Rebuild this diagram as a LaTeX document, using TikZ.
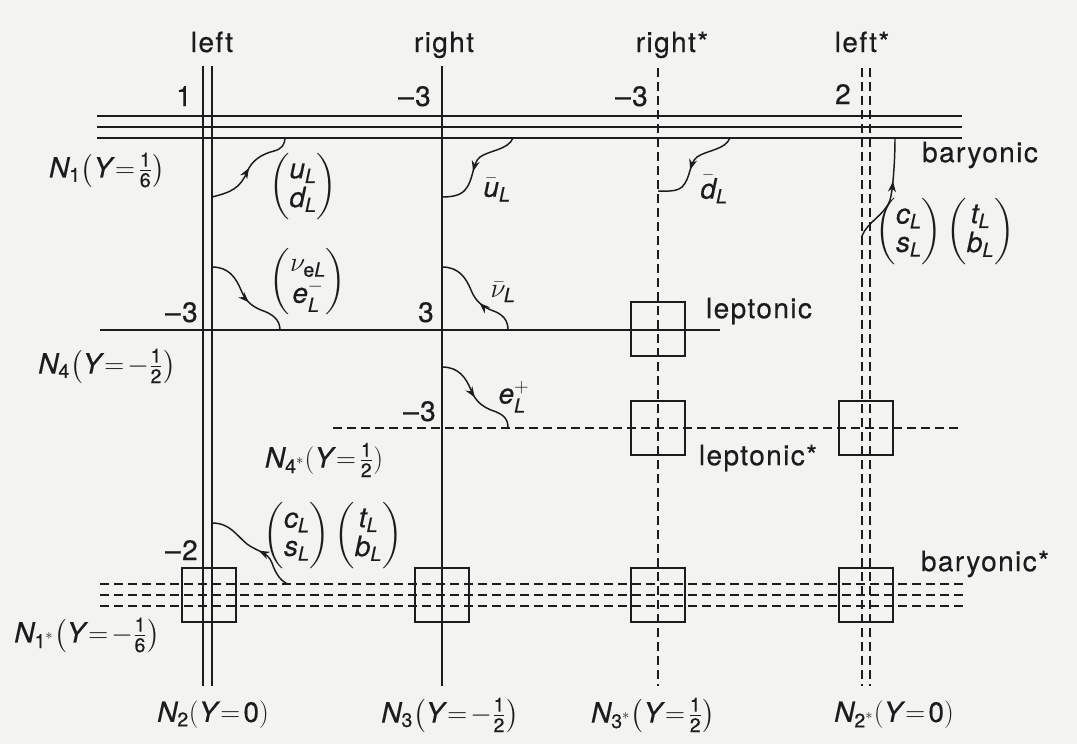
\documentclass[tikz,border=0pt]{standalone}
\usepackage{amsmath}
\usepackage{fontspec}
\setmainfont{TeX Gyre Heros}[LetterSpace=5,FakeBold=0.4]
\usetikzlibrary{decorations.markings,arrows.meta}
\definecolor{ink}{RGB}{28,28,28}
\definecolor{bgc}{RGB}{243,243,241}
\newcommand\mi[1]{\mathit{#1}}
\newcommand\tx[1]{\text{#1}}
\newcommand\fr[2]{\frac{\text{#1}}{\text{#2}}}
\newcommand\vecpair[2]{\left(\begin{matrix}#1\\#2\end{matrix}\right)}
\newcommand\eqs{\!=\!}
\renewcommand{\arraystretch}{0.85}
\tikzset{
  ln/.style={line width=1.3pt, draw=ink},
  dln/.style={ln, dash pattern=on 7pt off 3.5pt},
  boxn/.style={draw=ink, line width=1.3pt, minimum width=41pt, minimum height=40.5pt, inner sep=0pt},
  lbl/.style={font=\fontsize{21}{25}\selectfont, text=ink, inner sep=0pt},
  num/.style={lbl, anchor=base east},
  wav/.style={draw=ink, line width=1.1pt, postaction={decorate},
    decoration={markings, mark=at position #1 with {\arrow{Stealth[length=8pt,width=6pt]}}}},
  wav/.default=0.5
}
\begin{document}
\begin{tikzpicture}[x=0.75pt,y=-0.75pt]
\useasboundingbox (0,0) rectangle (1077,744);
\fill[bgc] (0,0) rectangle (1077,744);

% vertical lines
\draw[ln] (203,66) -- (203,686);
\draw[ln] (212,66) -- (212,686);
\draw[ln] (442,66) -- (442,686);
\draw[dln] (658,68) -- (658,686);
\draw[dln] (862,68) -- (862,686);
\draw[dln] (870,68) -- (870,686);
% horizontal lines
\foreach \yy in {116,127,138} \draw[ln] (97,\yy) -- (962,\yy);
\draw[ln] (100,330) -- (720,330);
\draw[dln] (333,428) -- (960,428);
\foreach \yy in {584,595,606} \draw[dln] (100,\yy) -- (965,\yy);

% boxes
\node[boxn] (bxA) at (209,595) {};
\node[boxn] (bxB) at (442,595) {};
\node[boxn] (bxC) at (658,595) {};
\node[boxn] (bxD) at (866,595) {};
\node[boxn] (bxE) at (658,329) {};
\node[boxn] (bxF) at (658,428) {};
\node[boxn] (bxG) at (866,428) {};

% top labels
\node[lbl, anchor=base] (tl1) at (212,52) {left};
\node[lbl, anchor=base] (tl2) at (444,52) {right};
\node[lbl, anchor=base] (tl3) at (672,52) {right*};
\node[lbl, anchor=base] (tl4) at (862,52) {left*};

% numbers
\node[num] (n1) at (192,106) {1};
\node[num] (n2) at (431,106) {--3};
\node[num] (n3) at (648,106) {--3};
\node[num] (n4) at (851,104) {2};
\node[num] (n5) at (198,322) {--3};
\node[num] (n6) at (434,322) {3};
\node[num] (n7) at (436,421) {--3};
\node[num] (n8) at (198,560) {--2};

% side labels
\node[lbl] (sb) at (980,155) {baryonic};
\node[lbl] (sl) at (759,311) {leptonic};
\node[lbl] (sls) at (758,458) {leptonic*};
\node[lbl] (sbs) at (985,564) {baryonic*};

% N labels
\node[lbl] (N1) at (107,170) {$\mi{N}_{\tx{1}}\bigl(\mi{Y}\eqs\fr{1}{6}\bigr)$};
\node[lbl] (N4) at (107,366) {$\mi{N}_{\tx{4}}\bigl(\mi{Y}\eqs-\fr{1}{2}\bigr)$};
\node[lbl] (N4s) at (324,460) {$\mi{N}_{\tx{4}^{*}}(\mi{Y}\eqs\fr{1}{2})$};
\node[lbl] (N1s) at (87,635) {$\mi{N}_{\tx{1}^{*}}\bigl(\mi{Y}\eqs-\fr{1}{6}\bigr)$};
\node[lbl] (N2) at (213,715) {$\mi{N}_{\tx{2}}(\mi{Y}\eqs\tx{0})$};
\node[lbl] (N3) at (450,715) {$\mi{N}_{\tx{3}}\bigl(\mi{Y}\eqs-\fr{1}{2}\bigr)$};
\node[lbl] (N3s) at (653,715) {$\mi{N}_{\tx{3}^{*}}\bigl(\mi{Y}\eqs\fr{1}{2}\bigr)$};
\node[lbl] (N2s) at (894,715) {$\mi{N}_{\tx{2}^{*}}(\mi{Y}\eqs\tx{0})$};

% particle labels
\node[lbl] (pud) at (303,187) {$\vecpair{\mi{u}_{\mi{L}}}{\mi{d}_{\mi{L}}}$};
\node[lbl] (pub) at (497,190) {$\bar{\mi{u}}_{\mi{L}}$};
\node[lbl] (pdb) at (714,189) {$\bar{\mi{d}}_{\mi{L}}$};
\node[lbl] (pcs1) at (945,232) {$\vecpair{\mi{c}_{\mi{L}}}{\mi{s}_{\mi{L}}}\vecpair{\mi{t}_{\mi{L}}}{\mi{b}_{\mi{L}}}$};
\node[lbl] (pne) at (308,282) {$\vecpair{\nu_{\tx{e}\mi{L}}}{\mi{e}_{\mi{L}}^{-}}$};
\node[lbl] (pnb) at (503,292) {$\bar{\nu}_{\mi{L}}$};
\node[lbl] (pep) at (514,397) {$\mi{e}_{\mi{L}}^{+}$};
\node[lbl] (pcs2) at (333,536) {$\vecpair{\mi{c}_{\mi{L}}}{\mi{s}_{\mi{L}}}\vecpair{\mi{t}_{\mi{L}}}{\mi{b}_{\mi{L}}}$};

% wavy arrows
\draw[wav=0.5] (212,197) .. controls (232,192) and (240,188) .. (247,172) .. controls (252,160) and (262,154) .. (274,151) .. controls (282,149) and (285,144) .. (285,138);
\draw[wav=0.55] (513,138) .. controls (508,150) and (490,150) .. (480,157) .. controls (472,163) and (474,180) .. (465,190) .. controls (460,196) and (450,197) .. (442,197);
\draw[wav=0.55] (730,138) .. controls (725,150) and (707,150) .. (697,157) .. controls (689,163) and (691,178) .. (682,187) .. controls (676,192) and (667,191) .. (658,191);
\draw[wav=0.6] (862,236) .. controls (867,222) and (885,215) .. (890,200) .. controls (893,190) and (895,160) .. (895,138);
\draw[wav=0.55] (212,267) .. controls (229,267) and (236,278) .. (241,290) .. controls (245,300) and (251,306) .. (261,310) .. controls (273,314) and (280,320) .. (280,330);
\draw[wav=0.43] (508,330) .. controls (508,320) and (503,314) .. (491,310) .. controls (481,306) and (475,300) .. (471,290) .. controls (466,278) and (459,267) .. (442,267);
\draw[wav=0.5] (442,367) .. controls (459,367) and (466,378) .. (471,390) .. controls (475,400) and (481,406) .. (491,410) .. controls (503,414) and (508,418) .. (508,428);
\draw[wav=0.45] (288,584) .. controls (282,582) and (276,575) .. (272,563) .. controls (268,552) and (258,552) .. (247,544) .. controls (236,535) and (230,523) .. (212,523);
\end{tikzpicture}
\end{document}
